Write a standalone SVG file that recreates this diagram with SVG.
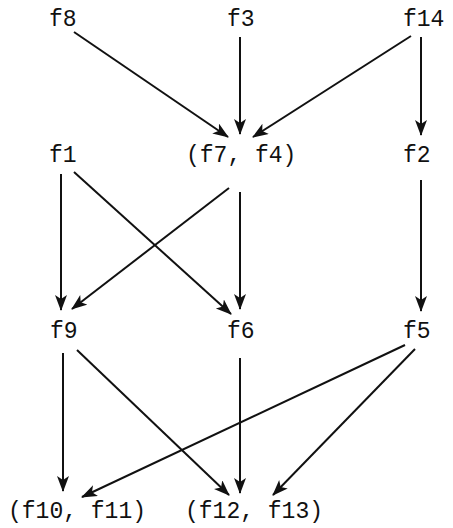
<svg xmlns="http://www.w3.org/2000/svg" width="453" height="528" viewBox="0 0 453 528">
<style>
.lbl{font-family:"Liberation Mono","DejaVu Sans Mono",monospace;font-size:23px;fill:#111}
.e{stroke:#111;stroke-width:2;fill:none;marker-end:url(#ah)}
</style>
<defs>
<marker id="ah" markerUnits="userSpaceOnUse" markerWidth="18" markerHeight="14" refX="15" refY="6" orient="auto">
<path d="M0,0 L16,6 L0,12 L4,6 Z" fill="#111"/>
</marker>
</defs>
<rect width="453" height="528" fill="#fff"/>
<g id="edges">
<line class="e" x1="74" y1="32" x2="228" y2="137"/>
<line class="e" x1="240" y1="37" x2="240" y2="134"/>
<line class="e" x1="411" y1="36" x2="253" y2="137"/>
<line class="e" x1="421" y1="37" x2="421" y2="135"/>
<line class="e" x1="61" y1="174" x2="61" y2="310"/>
<line class="e" x1="74" y1="172" x2="231" y2="314"/>
<line class="e" x1="229" y1="188" x2="72" y2="309"/>
<line class="e" x1="240" y1="192" x2="240" y2="309"/>
<line class="e" x1="421" y1="180" x2="421" y2="311"/>
<line class="e" x1="63" y1="353" x2="63" y2="491"/>
<line class="e" x1="77" y1="350" x2="229" y2="495"/>
<line class="e" x1="240" y1="358" x2="240" y2="493"/>
<line class="e" x1="405" y1="345" x2="82" y2="497"/>
<line class="e" x1="415" y1="349" x2="273" y2="495"/>
</g>
<g id="f8"><text class="lbl" x="49" y="26">f8</text></g>
<g id="f3"><text class="lbl" x="227" y="26">f3</text></g>
<g id="f14"><text class="lbl" x="403" y="26">f14</text></g>
<g id="f1"><text class="lbl" x="49" y="162">f1</text></g>
<g id="f7f4"><text class="lbl" x="186" y="162">(f7, f4)</text></g>
<g id="f2"><text class="lbl" x="403" y="162">f2</text></g>
<g id="f9"><text class="lbl" x="50" y="338">f9</text></g>
<g id="f6"><text class="lbl" x="227" y="338">f6</text></g>
<g id="f5"><text class="lbl" x="403" y="338">f5</text></g>
<g id="f10f11"><text class="lbl" x="8" y="518">(f10, f11)</text></g>
<g id="f12f13"><text class="lbl" x="185" y="518">(f12, f13)</text></g>
</svg>
